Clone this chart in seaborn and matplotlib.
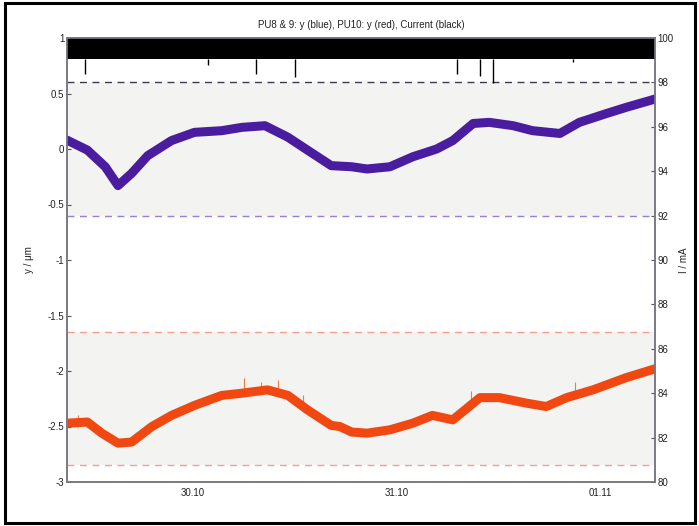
import pandas as pd
import numpy as np
import matplotlib
matplotlib.use('Agg')
import matplotlib.pyplot as plt
import matplotlib.patches as mpatches
import seaborn as sns

# --- data (hours relative to 30.10 00:00) ---
blue_hours = [-14.8, -12.4, -10.3, -8.8, -7.2, -5.3, -2.5, 0.2, 3.4, 5.8, 8.5, 11.2, 13.5,
              16.3, 18.7, 20.5, 23.2, 25.9, 28.7, 30.6, 33.0, 34.9, 37.7, 40.0, 43.2, 45.5,
              48.7, 51.0, 54.4]
blue_y = [0.08, -0.01, -0.16, -0.33, -0.22, -0.06, 0.076, 0.15, 0.165, 0.195, 0.21, 0.106, -0.01,
          -0.15, -0.16, -0.18, -0.16, -0.07, 0.0, 0.076, 0.23, 0.24, 0.21, 0.165, 0.14, 0.24,
          0.32, 0.375, 0.45]

red_hours = [-14.8, -12.4, -10.7, -8.8, -7.2, -4.8, -2.5, 0.2, 3.4, 5.8, 8.8, 11.2, 13.5,
             16.3, 17.3, 18.7, 20.5, 23.2, 25.9, 28.2, 30.6, 33.8, 36.1, 39.3, 41.6, 44.0,
             47.1, 51.0, 54.4]
red_y = [-2.47, -2.46, -2.56, -2.65, -2.64, -2.50, -2.40, -2.31, -2.22, -2.20, -2.17, -2.22, -2.35,
         -2.49, -2.50, -2.55, -2.56, -2.53, -2.47, -2.40, -2.44, -2.24, -2.24, -2.29, -2.32, -2.24,
         -2.17, -2.06, -1.98]

# beam current: lower edge of the black band and the dips
current_hours = [-14.8, 0.0, 24.0, 54.4]
current_low = [99.05, 99.05, 99.05, 99.05]
current_top = 101.0
dip_hours = [-12.7, 1.8, 7.5, 12.0, 31.1, 33.8, 35.3, 44.7]
dip_low = [98.4, 98.8, 98.4, 98.25, 98.4, 98.3, 97.97, 98.9]

# red spikes
red_spike_hours = [-13.5, 6.0, 8.0, 10.0, 13.0, 32.8, 45.0]
red_spike_top = [-2.40, -2.06, -2.10, -2.08, -2.22, -2.18, -2.10]

blue_limits = [0.6, -0.6]
red_limits = [-1.65, -2.85]

x_tick_hours = [-12, 0, 12, 24, 36, 48]
x_tick_labels = ['', '30.10', '', '31.10', '', '01.11']
x_start_hours, x_end_hours = -14.8, 54.4

t0 = pd.Timestamp('2005-10-30 00:00')


def to_time(hours):
    return t0 + pd.to_timedelta(np.asarray(hours, dtype=float), unit='h')


blue_df = pd.DataFrame({'time': to_time(blue_hours), 'y': blue_y})
red_df = pd.DataFrame({'time': to_time(red_hours), 'y': red_y})

sns.set_style('white')
plt.rcParams['font.family'] = ['Liberation Sans', 'DejaVu Sans']
plt.rcParams['axes.unicode_minus'] = False

fig = plt.figure(figsize=(6.99, 5.26), dpi=100)
ax = fig.add_axes([67 / 699, 1 - 482 / 526, 588 / 699, 444 / 526])

# shaded bands and dashed limits
ax.axhspan(blue_limits[1], blue_limits[0], color='#f3f3f1', zorder=0, lw=0)
ax.axhspan(red_limits[1], red_limits[0], color='#f3f3f1', zorder=0, lw=0)
ax.axhline(blue_limits[0], color='#3c3a52', ls=(0, (5, 4)), lw=1.0, zorder=1)
ax.axhline(blue_limits[1], color='#9a80d4', ls=(0, (5, 4)), lw=1.0, zorder=1)
for lim in red_limits:
    ax.axhline(lim, color='#f3a08c', ls=(0, (5, 4)), lw=1.0, zorder=1)

ax.vlines(to_time(red_spike_hours), [y - 0.1 for y in red_spike_top], red_spike_top,
          color='#f07a40', lw=0.8, zorder=2)
sns.lineplot(data=blue_df, x='time', y='y', ax=ax, color='#4a1ca0', lw=6.5, zorder=3)
sns.lineplot(data=red_df, x='time', y='y', ax=ax, color='#f04810', lw=6.5, zorder=3)

ax.set_ylim(-3, 1)
ax.set_yticks(np.arange(-3, 1.01, 0.5))
ax.yaxis.set_major_formatter(matplotlib.ticker.FormatStrFormatter('%g'))
ax.set_xlim(to_time([x_start_hours])[0], to_time([x_end_hours])[0])
ax.set_xticks(to_time(x_tick_hours))
ax.set_xticklabels(x_tick_labels)
ax.set_xlabel('')
ax.set_ylabel('y / \u03bcm', fontsize=7, labelpad=10, color='#222222')
ax.tick_params(axis='y', direction='in', length=3, labelsize=7, pad=2, colors='#555555',
               labelcolor='#222222')
ax.tick_params(axis='x', direction='in', length=6, width=1.2, labelsize=7, pad=4,
               colors='#555566', labelcolor='#222222')

# current on the right axis
ax2 = ax.twinx()
ax2.fill_between(to_time(current_hours), current_low, current_top, color='black', lw=0)
ax2.vlines(to_time(dip_hours), dip_low, current_low[0], color='black', lw=1.0)
ax2.set_ylim(80, 100)
ax2.set_yticks(np.arange(80, 100.1, 2))
ax2.yaxis.set_major_formatter(matplotlib.ticker.FormatStrFormatter('%g'))
ax2.set_ylabel('I / mA', fontsize=7, rotation=90, color='#222222')
ax2.yaxis.set_label_coords(1.0408, 0.5)
ax2.tick_params(axis='y', direction='in', length=3, labelsize=7, pad=2, colors='#555555',
                labelcolor='#222222')
ax2.set_xlim(ax.get_xlim())

for a in (ax, ax2):
    for side, sp in a.spines.items():
        sp.set_color('#7a7a86')
        sp.set_linewidth(1.2)

ax.set_title('PU8 & 9: y (blue), PU10: y (red), Current (black)', fontsize=7, pad=7,
             color='#222222')

# outer frame
fig.patches.append(mpatches.Rectangle((5 / 699, 3 / 526), 690 / 699, 520 / 526,
                                      transform=fig.transFigure, fill=False,
                                      edgecolor='black', lw=2.2))

fig.savefig('out.png', dpi=100)
